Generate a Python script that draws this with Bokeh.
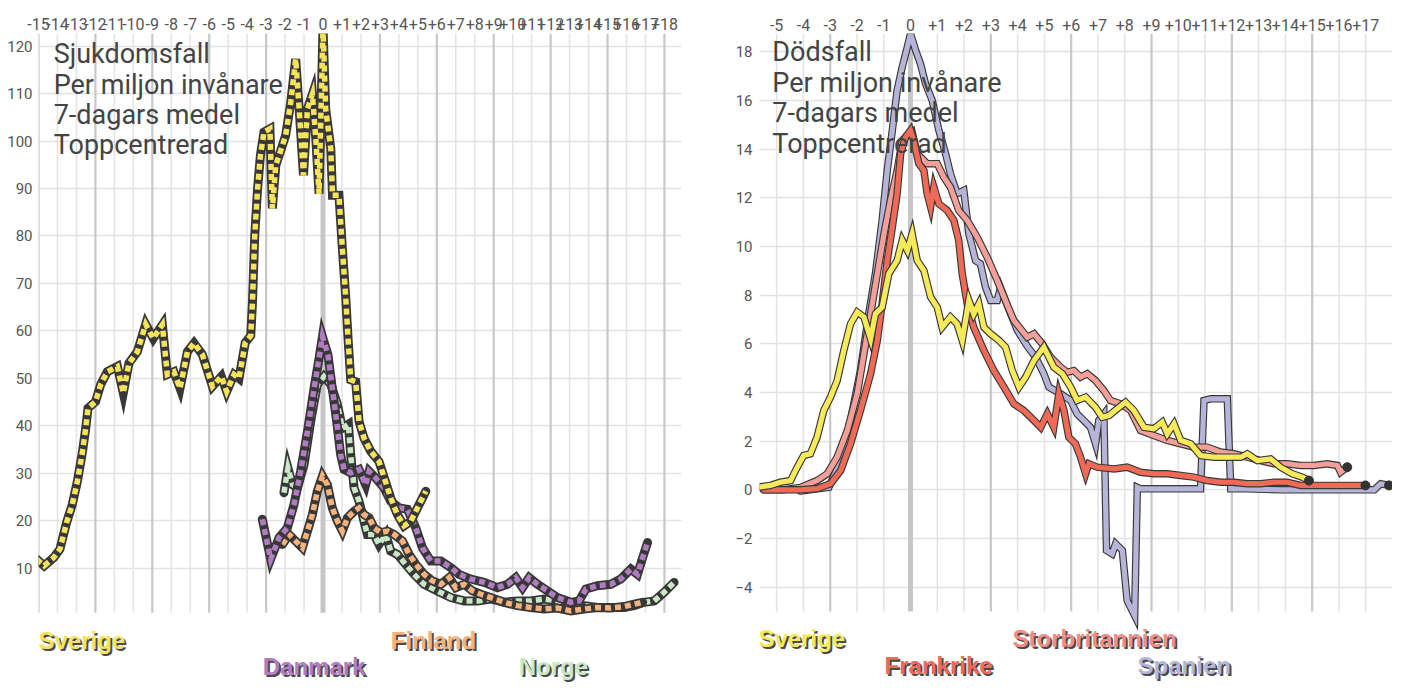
from bokeh.plotting import figure
from bokeh.layouts import row
from bokeh.models import (ColumnDataSource, FixedTicker, Label,
                          CustomJSTickFormatter)
from bokeh.embed import file_html
from bokeh.resources import INLINE

# ---------------- data: weeks relative to peak, value per million ----------------
case_weeks = list(range(-15, 19))
death_weeks = list(range(-5, 18))
case_yticks = list(range(10, 121, 10))
death_yticks = list(range(-4, 19, 2))

sverige_cases = [(-15.1, 11.9), (-14.7, 10.5), (-14.2, 12.2), (-13.87, 14), (-13.52, 19.6),
    (-13.22, 23.4), (-12.95, 28.3), (-12.69, 34.3), (-12.51, 39.5), (-12.39, 43.7),
    (-11.99, 45.1), (-11.72, 48.7), (-11.37, 51.4), (-10.84, 52.5), (-10.53, 46.9),
    (-10.23, 53.2), (-9.79, 55.6), (-9.35, 61.4), (-8.95, 58.4), (-8.47, 61.3),
    (-8.21, 50.8), (-7.86, 51.4), (-7.54, 47.9), (-7.15, 55.6), (-6.8, 57.4),
    (-6.36, 55.0), (-5.83, 48.3), (-5.36, 50.4), (-5.08, 47.2), (-4.69, 50.8),
    (-4.43, 50.0), (-4.1, 57.5), (-3.81, 59.0), (-3.72, 66.0), (-3.6, 80.0),
    (-3.45, 90.0), (-3.3, 97.0), (-3.11, 101.9), (-2.8, 102.6), (-2.67, 85.8),
    (-2.49, 94.9), (-2.23, 98.0), (-1.97, 101.2), (-1.7, 108.2), (-1.44, 117.3),
    (-1.27, 107.5), (-1.03, 92.8), (-0.82, 106.8), (-0.56, 109.9), (-0.38, 100.5),
    (-0.21, 88.9), (0.0, 124.0), (0.14, 106.8), (0.41, 98.4), (0.5, 88.6),
    (0.84, 88.6), (1.02, 77.4), (1.2, 66.9), (1.32, 58.4), (1.46, 49.7),
    (1.72, 49.3), (1.9, 40.9), (2.16, 37.4), (2.52, 34.6), (2.95, 32.5),
    (3.4, 26.9), (3.57, 24.8), (3.92, 21.3), (4.27, 18.9), (4.63, 19.9),
    (4.98, 22.7), (5.42, 26.2)]

danmark_cases = [(-3.2, 20.3), (-2.76, 11.9), (-2.32, 16.4), (-1.88, 18.5), (-1.53, 23.4),
    (-1.18, 30.4), (-0.82, 38.8), (-0.47, 47.9), (-0.21, 54.2), (-0.03, 58.8),
    (0.26, 55.0), (0.49, 47.9), (0.72, 40.9), (0.93, 33.9), (1.11, 30.8),
    (1.46, 30.1), (1.9, 30.8), (2.25, 27.6), (2.43, 30.4), (2.78, 29.0),
    (3.22, 26.9), (3.57, 24.1), (4.01, 22.7), (4.45, 22.4), (4.89, 18.5),
    (5.24, 14.3), (5.68, 11.5), (6.21, 11.5), (6.74, 10.1), (7.17, 8.7),
    (7.79, 7.7), (8.49, 7.0), (9.2, 5.9), (9.73, 6.6), (10.16, 8.0),
    (10.52, 5.9), (10.87, 8.0), (11.31, 6.6), (11.84, 5.2), (12.36, 3.8),
    (13.07, 2.8), (13.5, 3.1), (13.86, 5.6), (14.47, 6.3), (15.17, 6.6),
    (15.7, 7.7), (16.23, 9.8), (16.58, 8.7), (16.85, 12.2), (17.11, 15.4)]

norge_cases = [(-2.06, 25.9), (-1.85, 31.1), (-1.61, 27.6), (-1.35, 26.9), (-1.0, 31.8),
    (-0.65, 40.9), (-0.3, 48.7), (0.05, 50.4), (0.41, 48.7), (0.76, 44.5),
    (1.02, 39.5), (1.34, 40.3), (1.46, 33.9), (1.64, 26.9), (1.9, 24.1),
    (2.16, 19.9), (2.34, 17.1), (2.69, 17.1), (2.95, 15.0), (3.31, 17.1),
    (3.57, 13.6), (3.92, 12.9), (4.36, 10.8), (4.8, 8.7), (5.33, 6.6),
    (6.03, 5.2), (6.74, 3.8), (7.44, 3.1), (8.14, 3.1), (8.84, 3.5),
    (9.55, 2.8), (10.25, 3.1), (10.95, 3.1), (11.66, 3.5), (12.36, 3.1),
    (13.07, 2.4), (13.77, 2.1), (14.47, 1.7), (15.17, 1.7), (15.88, 1.7),
    (16.4, 2.1), (16.93, 2.8), (17.46, 3.1), (17.98, 4.9), (18.51, 7.0)]

finland_cases = [(-2.14, 15.0), (-1.79, 17.1), (-1.44, 15.7), (-1.09, 14.3), (-0.82, 17.8),
    (-0.56, 21.3), (-0.3, 26.2), (-0.03, 29.4), (0.23, 27.6), (0.49, 22.7),
    (0.76, 19.9), (1.02, 17.8), (1.29, 20.6), (1.64, 22.0), (1.9, 22.7),
    (2.16, 21.3), (2.43, 20.6), (2.69, 18.5), (3.04, 17.5), (3.4, 17.8),
    (3.75, 17.1), (4.19, 15.7), (4.54, 12.9), (4.89, 10.8), (5.33, 8.7),
    (5.77, 7.3), (6.21, 6.6), (6.65, 8.0), (7.0, 5.9), (7.44, 6.6),
    (7.88, 5.2), (8.32, 4.5), (8.84, 3.8), (9.55, 2.8), (10.25, 2.1),
    (10.95, 1.7), (11.66, 1.4), (12.36, 1.6), (13.07, 1.0), (13.77, 1.4),
    (14.47, 1.7), (15.17, 1.6), (15.88, 1.9), (16.4, 2.4), (16.85, 2.8)]

sverige_deaths = [(-5.73, 0.1), (-5.23, 0.18), (-4.86, 0.31), (-4.48, 0.38), (-4.23, 0.93),
    (-3.99, 1.41), (-3.74, 1.48), (-3.49, 2.16), (-3.24, 3.26), (-2.99, 3.81),
    (-2.74, 4.49), (-2.49, 5.73), (-2.24, 6.82), (-1.99, 7.3), (-1.74, 7.1),
    (-1.49, 6.2), (-1.31, 7.23), (-1.06, 7.5), (-0.81, 8.88), (-0.5, 9.42),
    (-0.31, 10.25), (-0.12, 9.84), (0.06, 10.52), (0.25, 9.42), (0.5, 9.01),
    (0.75, 7.92), (1.0, 7.5), (1.18, 6.68), (1.49, 7.1), (1.74, 6.82),
    (1.93, 6.14), (2.18, 7.78), (2.36, 7.23), (2.55, 7.64), (2.74, 6.68),
    (2.99, 6.41), (3.3, 6.14), (3.55, 5.86), (3.8, 4.9), (4.05, 4.22),
    (4.3, 4.63), (4.61, 5.31), (4.98, 5.86), (5.35, 5.04), (5.67, 4.77),
    (5.98, 4.22), (6.22, 3.67), (6.54, 3.81), (6.91, 3.39), (7.16, 2.98),
    (7.41, 3.05), (7.72, 3.33), (8.03, 3.6), (8.34, 3.26), (8.72, 2.57),
    (9.09, 2.51), (9.4, 2.78), (9.59, 2.3), (9.84, 2.71), (10.09, 2.03),
    (10.46, 1.89), (10.83, 1.41), (11.33, 1.34), (11.83, 1.34), (12.33, 1.34),
    (12.58, 1.48), (12.95, 1.2), (13.45, 1.27), (13.82, 0.93), (14.26, 0.66),
    (14.63, 0.52), (14.88, 0.38)]

storbritannien_deaths = [(-5.48, 0.0), (-4.73, 0.0), (-4.11, 0.1), (-3.49, 0.38), (-3.11, 0.66),
    (-2.74, 1.34), (-2.36, 2.44), (-1.99, 3.95), (-1.74, 5.59), (-1.49, 7.23),
    (-1.24, 8.88), (-0.99, 10.52), (-0.75, 11.89), (-0.5, 13.12), (-0.31, 14.36),
    (-0.12, 14.56), (0.06, 14.7), (0.25, 13.81), (0.62, 13.4), (1.0, 13.4),
    (1.24, 12.85), (1.49, 12.44), (1.8, 11.48), (2.12, 11.07), (2.49, 10.38),
    (2.86, 9.56), (3.24, 8.6), (3.61, 7.6), (3.86, 6.96), (4.36, 6.27),
    (4.61, 6.41), (4.92, 6.0), (5.23, 5.45), (5.6, 5.04), (5.85, 4.83),
    (6.1, 4.9), (6.35, 4.63), (6.6, 4.77), (6.91, 4.49), (7.22, 4.08),
    (7.47, 3.67), (7.85, 3.53), (8.22, 3.26), (8.59, 2.44), (9.09, 2.23),
    (9.59, 2.03), (10.09, 1.89), (10.58, 1.75), (11.08, 1.75), (11.58, 1.55),
    (12.08, 1.48), (12.58, 1.34), (13.07, 1.2), (13.57, 1.07), (14.07, 1.07),
    (14.57, 1.0), (15.07, 1.0), (15.56, 1.07), (15.94, 1.0), (16.06, 0.72),
    (16.31, 0.93)]

frankrike_deaths = [(-5.48, 0.0), (-4.11, 0.0), (-3.49, 0.05), (-2.99, 0.25), (-2.61, 0.79),
    (-2.24, 1.89), (-1.87, 3.26), (-1.49, 4.77), (-1.24, 6.14), (-1.06, 7.64),
    (-0.87, 9.42), (-0.68, 10.79), (-0.5, 12.17), (-0.37, 13.81), (-0.19, 14.49),
    (0.0, 14.77), (0.12, 14.36), (0.31, 13.4), (0.5, 13.12), (0.62, 12.17),
    (0.75, 11.62), (0.87, 12.44), (1.06, 11.75), (1.37, 11.48), (1.62, 11.07),
    (1.8, 10.25), (1.93, 8.88), (2.12, 7.64), (2.36, 6.68), (2.74, 5.73),
    (3.11, 4.9), (3.49, 4.22), (3.86, 3.53), (4.23, 3.26), (4.61, 2.85),
    (4.86, 2.57), (5.11, 3.12), (5.35, 2.57), (5.54, 3.95), (5.73, 3.26),
    (5.91, 2.16), (6.16, 1.89), (6.35, 1.34), (6.54, 0.66), (6.66, 1.07),
    (6.97, 0.93), (7.6, 0.86), (8.09, 0.93), (8.59, 0.72), (9.09, 0.66),
    (9.59, 0.66), (10.09, 0.59), (10.58, 0.52), (11.08, 0.38), (11.58, 0.31),
    (12.08, 0.31), (12.58, 0.25), (13.07, 0.25), (13.57, 0.31), (14.07, 0.31),
    (14.57, 0.18), (15.07, 0.18), (15.69, 0.18), (16.31, 0.18), (16.99, 0.18)]

spanien_deaths = [(-4.11, -0.05), (-3.05, 0.1), (-2.61, 1.2), (-2.24, 2.85), (-1.87, 4.9),
    (-1.56, 7.23), (-1.31, 8.88), (-1.06, 11.07), (-0.87, 13.12), (-0.68, 14.77),
    (-0.5, 16.41), (-0.31, 17.37), (-0.12, 18.19), (0.0, 18.74), (0.19, 18.06),
    (0.37, 17.51), (0.56, 16.69), (0.81, 16.0), (1.06, 14.77), (1.31, 13.81),
    (1.49, 12.99), (1.74, 12.17), (1.99, 12.3), (2.18, 10.52), (2.43, 9.42),
    (2.61, 9.29), (2.8, 8.33), (2.99, 7.78), (3.24, 7.78), (3.36, 8.3),
    (3.74, 7.23), (3.99, 6.55), (4.36, 5.9), (4.67, 5.45), (4.98, 4.77),
    (5.17, 4.22), (5.6, 3.95), (5.98, 3.67), (6.22, 3.12), (6.47, 2.85),
    (6.72, 2.57), (6.91, 1.89), (7.03, 2.85), (7.22, 3.12), (7.32, -2.49),
    (7.53, -2.63), (7.66, -2.22), (7.91, -2.49), (8.09, -4.55), (8.37, -5.17),
    (8.47, 0.1), (8.59, 0.04), (10.83, 0.04), (10.96, 3.67), (11.21, 3.74),
    (11.83, 3.74), (11.96, 0.04), (12.58, 0.04), (13.82, 0.0), (15.07, 0.0),
    (17.32, 0.0), (17.56, 0.25), (17.87, 0.18)]

# ---------------- styling helpers ----------------
FONT = "Roboto"
OUTLINE = "#383838"
HEIGHT = 684


def base_fig(width, xr, yr, yticks, xticks, borders, grid_span, stand):
    p = figure(width=width, height=HEIGHT, x_range=xr, y_range=yr,
               output_backend="svg", toolbar_location=None,
               x_axis_location="above", min_border_left=borders[0],
               min_border_right=borders[1], min_border_top=borders[2],
               min_border_bottom=borders[3])
    p.outline_line_color = None
    p.background_fill_color = "white"
    p.xaxis.ticker = FixedTicker(ticks=xticks)
    p.xaxis.formatter = CustomJSTickFormatter(
        code="return tick > 0 ? '+' + tick : '' + tick;")
    p.yaxis.ticker = FixedTicker(ticks=yticks)
    for ax in p.xaxis + p.yaxis:
        ax.axis_line_color = None
        ax.major_tick_line_color = None
        ax.minor_tick_line_color = None
        ax.major_tick_out = 0
        ax.major_tick_in = 0
        ax.minor_tick_out = 0
        ax.minor_tick_in = 0
        ax.major_label_text_font = FONT
        ax.major_label_text_color = "#555555"
    p.xaxis.major_label_text_font_size = "16px"
    p.yaxis.major_label_text_font_size = "15px"
    p.xaxis.major_label_standoff = stand[0]
    p.yaxis.major_label_standoff = stand[1]
    p.xgrid.grid_line_color = None
    p.ygrid.grid_line_color = "#e2e2e2"
    p.ygrid.grid_line_width = 1.5
    # vertical week lines, stopping at the bottom of the plotting area
    y0, y1 = grid_span
    groups = [([w for w in xticks if w % 3 != 0], "#e3e3e3", 1.5),
              ([w for w in xticks if w % 3 == 0 and w != 0], "#c8c8c8", 2.2),
              ([0], "#c6c6c6", 5)]
    for ws, col, lw in groups:
        p.segment(x0=ws, x1=ws, y0=[y0] * len(ws), y1=[y1] * len(ws),
                  line_color=col, line_width=lw)
    return p


def src(pts):
    return ColumnDataSource(dict(x=[a for a, b in pts], y=[b for a, b in pts]))


def dashed(p, pts, color):
    s = src(pts)
    p.line("x", "y", source=s, line_color=OUTLINE, line_width=9,
           line_join="miter", line_cap="round")
    p.line("x", "y", source=s, line_color=color, line_width=5.5,
           line_dash="6 4", line_join="miter")


def outlined(p, pts, color):
    s = src(pts)
    p.line("x", "y", source=s, line_color=OUTLINE, line_width=7.5,
           line_join="miter", line_cap="round")
    p.line("x", "y", source=s, line_color=color, line_width=5.2,
           line_join="miter", line_cap="round")


def title(p, x, ys, lines):
    for y, t in zip(ys, lines):
        p.add_layout(Label(x=x, y=y, text=t, text_font=FONT,
                           text_font_size="27px", text_color="#444444",
                           text_baseline="middle", text_align="left"))


def name(p, x, y, t, color):
    p.add_layout(Label(x=x, y=y, text=t, text_font="Liberation Sans",
                       text_font_style="bold", text_font_size="24px",
                       text_color="#4a4a4a", text_baseline="middle",
                       x_offset=2, y_offset=-2))
    p.add_layout(Label(x=x, y=y, text=t, text_font="Liberation Sans",
                       text_font_style="bold", text_font_size="24px",
                       text_color=color, text_baseline="middle"))


# ---------------- left: cases ----------------
left = base_fig(700, (-15.0, 18.9), (-14.52, 122.67), case_yticks, case_weeks,
                (38, 19, 31, 0), (0.61, 122.67), (4, 6))
YEL, PUR, ORA, GRN = "#f6e35c", "#b27cc2", "#f6b27c", "#c9e8c6"
dashed(left, norge_cases, GRN)
dashed(left, finland_cases, ORA)
dashed(left, danmark_cases, PUR)
dashed(left, sverige_cases, YEL)
title(left, -14.2, [118.3, 111.8, 105.5, 99.2],
      ["Sjukdomsfall", "Per miljon invånare", "7-dagars medel", "Toppcentrerad"])
name(left, -15.0, -5.3, "Sverige", YEL)
name(left, -3.18, -10.8, "Danmark", PUR)
name(left, 3.57, -5.3, "Finland", ORA)
name(left, 10.32, -10.8, "Norge", GRN)

# ---------------- right: deaths ----------------
right = base_fig(692, (-5.64, 18.0), (-8.0, 18.75), death_yticks, death_weeks,
                 (59, 0, 33, 0), (-5.0, 18.75), (3, 7))
DY, FR, UK, SP = "#f7ea5a", "#f06a58", "#f3a09a", "#b6b4d8"
outlined(right, spanien_deaths, SP)
outlined(right, storbritannien_deaths, UK)
outlined(right, frankrike_deaths, FR)
outlined(right, sverige_deaths, DY)
ends = [sverige_deaths[-1], storbritannien_deaths[-1], frankrike_deaths[-1],
        spanien_deaths[-1]]
right.scatter([e[0] for e in ends], [e[1] for e in ends], size=9,
              color="#333333")
title(right, -5.16, [17.98, 16.7, 15.5, 14.2],
      ["Dödsfall", "Per miljon invånare", "7-dagars medel", "Toppcentrerad"])
name(right, -5.68, -6.1, "Sverige", DY)
name(right, -0.97, -7.2, "Frankrike", FR)
name(right, 3.81, -6.1, "Storbritannien", "#f08e86")
name(right, 8.48, -7.2, "Spanien", SP)

page = row(left, right)
open("out.html", "w").write(file_html(page, INLINE))
